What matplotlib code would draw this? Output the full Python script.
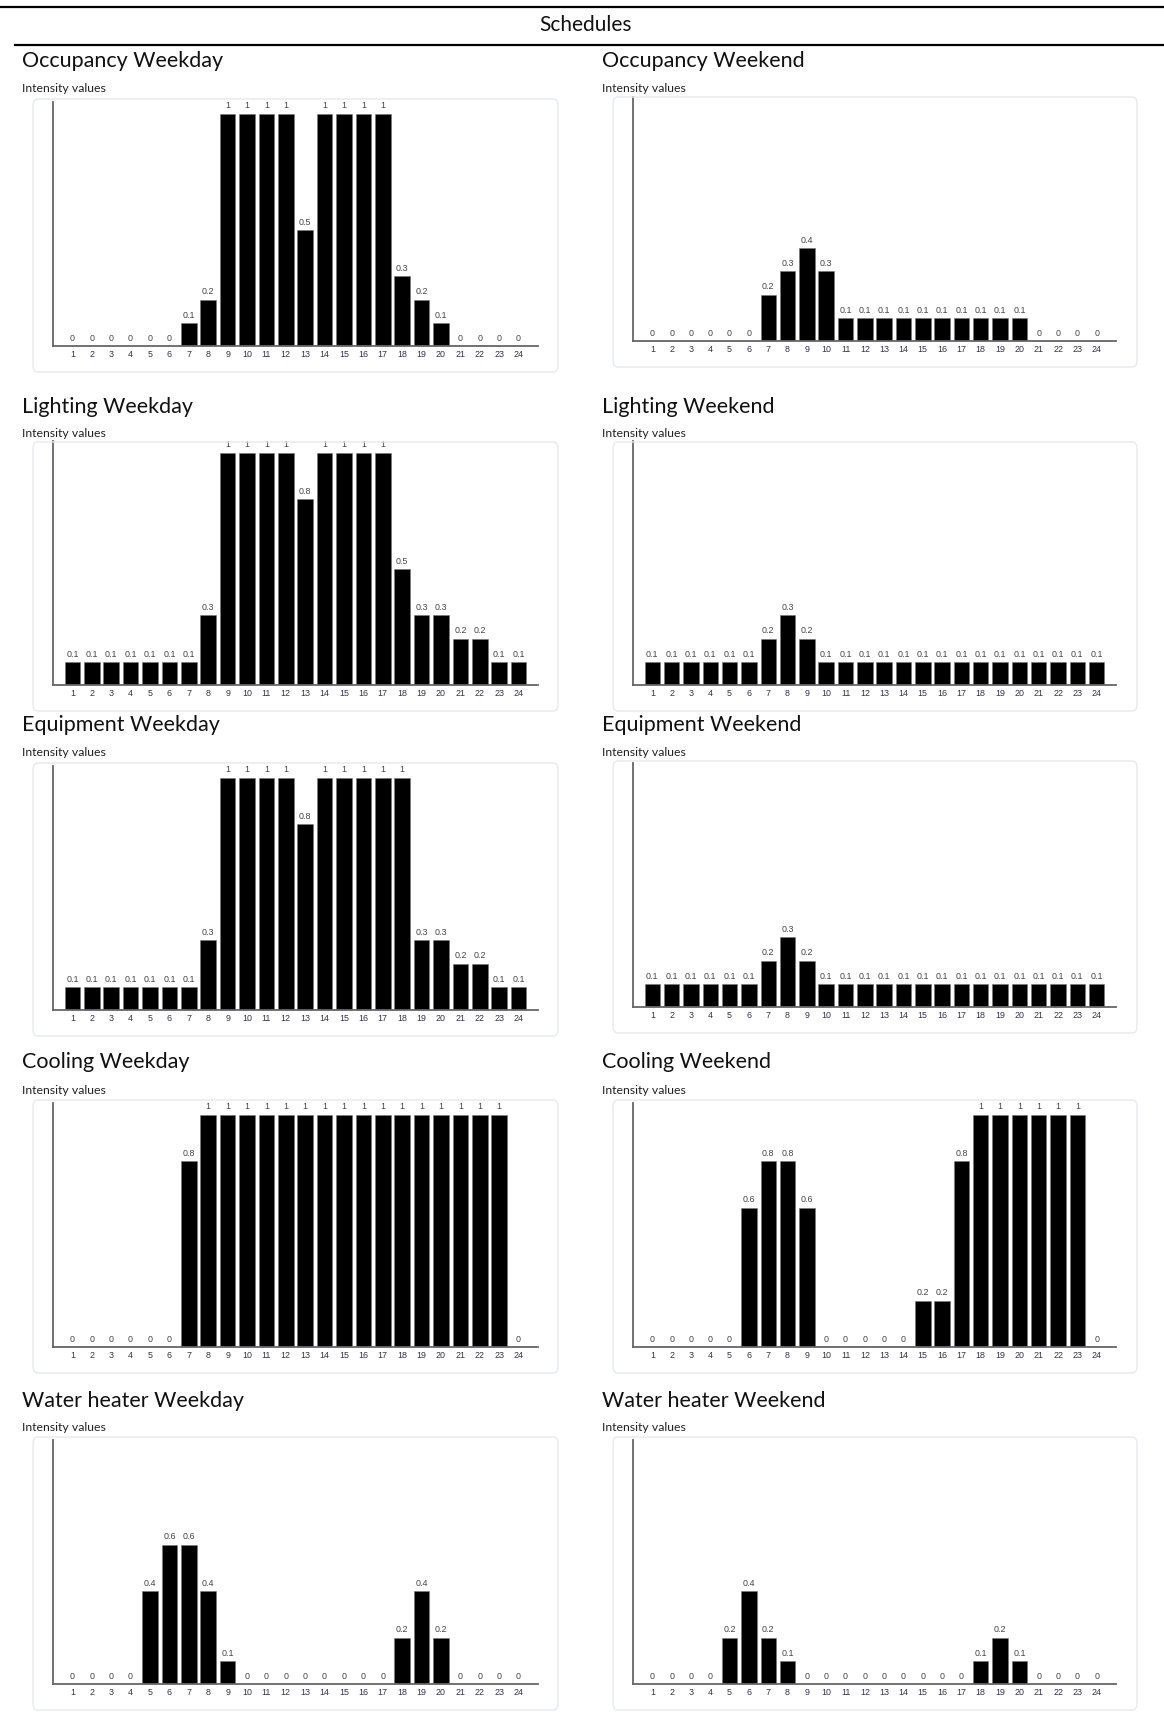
"""
Hourly schedule intensities (weekday / weekend) drawn as bar charts
"""

import matplotlib
matplotlib.use("Agg")
import matplotlib.pyplot as plt
from matplotlib.patches import FancyBboxPatch
from matplotlib.lines import Line2D

# Parameters
W = 1164  # figure width [px]
H = 1715  # figure height [px]
DPI = 100

hours = list(range(1, 25))

occupancy_weekday = [0, 0, 0, 0, 0, 0, 0.1, 0.2, 1, 1, 1, 1,
                     0.5, 1, 1, 1, 1, 0.3, 0.2, 0.1, 0, 0, 0, 0]
occupancy_weekend = [0, 0, 0, 0, 0, 0, 0.2, 0.3, 0.4, 0.3, 0.1, 0.1,
                     0.1, 0.1, 0.1, 0.1, 0.1, 0.1, 0.1, 0.1, 0, 0, 0, 0]
lighting_weekday = [0.1, 0.1, 0.1, 0.1, 0.1, 0.1, 0.1, 0.3, 1, 1, 1, 1,
                    0.8, 1, 1, 1, 1, 0.5, 0.3, 0.3, 0.2, 0.2, 0.1, 0.1]
lighting_weekend = [0.1, 0.1, 0.1, 0.1, 0.1, 0.1, 0.2, 0.3, 0.2, 0.1, 0.1, 0.1,
                    0.1, 0.1, 0.1, 0.1, 0.1, 0.1, 0.1, 0.1, 0.1, 0.1, 0.1, 0.1]
equipment_weekday = [0.1, 0.1, 0.1, 0.1, 0.1, 0.1, 0.1, 0.3, 1, 1, 1, 1,
                     0.8, 1, 1, 1, 1, 1, 0.3, 0.3, 0.2, 0.2, 0.1, 0.1]
equipment_weekend = [0.1, 0.1, 0.1, 0.1, 0.1, 0.1, 0.2, 0.3, 0.2, 0.1, 0.1, 0.1,
                     0.1, 0.1, 0.1, 0.1, 0.1, 0.1, 0.1, 0.1, 0.1, 0.1, 0.1, 0.1]
cooling_weekday = [0, 0, 0, 0, 0, 0, 0.8, 1, 1, 1, 1, 1,
                   1, 1, 1, 1, 1, 1, 1, 1, 1, 1, 1, 0]
cooling_weekend = [0, 0, 0, 0, 0, 0.6, 0.8, 0.8, 0.6, 0, 0, 0,
                   0, 0, 0.2, 0.2, 0.8, 1, 1, 1, 1, 1, 1, 0]
water_weekday = [0, 0, 0, 0, 0.4, 0.6, 0.6, 0.4, 0.1, 0, 0, 0,
                 0, 0, 0, 0, 0, 0.2, 0.4, 0.2, 0, 0, 0, 0]
water_weekend = [0, 0, 0, 0, 0.2, 0.4, 0.2, 0.1, 0, 0, 0, 0,
                 0, 0, 0, 0, 0, 0.1, 0.2, 0.1, 0, 0, 0, 0]

titles = ["Occupancy", "Lighting", "Equipment", "Cooling", "Water heater"]
weekday_data = [occupancy_weekday, lighting_weekday, equipment_weekday,
                cooling_weekday, water_weekday]
weekend_data = [occupancy_weekend, lighting_weekend, equipment_weekend,
                cooling_weekend, water_weekend]

# layout in pixels (top-down)
title_y = [61, 407, 725, 1062, 1401]
sub_y = [89, 434, 753, 1090, 1428]
axis_bottom_left = [347, 686, 1011, 1348, 1685]
axis_bottom_right = [342, 686, 1008, 1348, 1685]
AX_H = 244
COL_X = [(22, 53, 538, 33, 558), (602, 633, 1116, 613, 1137)]  # title x, ax left, ax right, box left, box right

TEXT_FONT = ["Lato", "DejaVu Sans"]
SMALL_FONT = ["Liberation Sans", "DejaVu Sans"]


def fx(px):
    return px / W


def fy(py):
    return 1.0 - py / H


def draw_box(fig, x0, x1, top, bottom):
    box = FancyBboxPatch((fx(x0), fy(bottom)), fx(x1 - x0), (bottom - top) / H,
                         boxstyle="round,pad=0,rounding_size=0.004",
                         transform=fig.transFigure, facecolor="none",
                         edgecolor="#e6eaef", linewidth=1.0, zorder=0)
    fig.patches.append(box)


def draw_chart(fig, values, title, col, row, bottom_px):
    tx, axl, axr, bl, br = COL_X[col]
    top_px = bottom_px - AX_H

    fig.text(fx(tx), fy(title_y[row]), title, fontsize=15.5, family=TEXT_FONT,
             va="center", ha="left", color="#111111")
    fig.text(fx(tx), fy(sub_y[row]), "Intensity values", fontsize=8.8,
             family=TEXT_FONT, va="center", ha="left", color="#222222")

    # keep the frame clear of the subtitle
    box_top = max(top_px - 3, sub_y[row] + 9)
    draw_box(fig, bl, br, box_top, bottom_px + 26)

    ax = fig.add_axes([fx(axl), fy(bottom_px), fx(axr - axl), AX_H / H])
    ax.bar(hours, values, width=0.8, color="black", edgecolor="#777777",
           linewidth=0.4)
    for h, v in zip(hours, values):
        ax.annotate("%g" % v, (h, v), xytext=(0, 3), textcoords="offset points",
                    ha="center", va="bottom", fontsize=6.4, family=SMALL_FONT,
                    color="#444444")
    ax.set_xlim(0, 25)
    ax.set_ylim(0, 1.05)
    ax.set_xticks(hours)
    ax.set_xticklabels([str(h) for h in hours], fontsize=6.4, family=SMALL_FONT,
                       color="#333344")
    ax.tick_params(axis="x", length=0, pad=2)
    ax.set_yticks([])
    ax.spines["top"].set_visible(False)
    ax.spines["right"].set_visible(False)
    for s in ("left", "bottom"):
        ax.spines[s].set_color("#666666")
        ax.spines[s].set_linewidth(1.3)
    ax.patch.set_alpha(0)


def main():
    fig = plt.figure(figsize=(W / DPI, H / DPI), dpi=DPI)
    fig.patch.set_facecolor("white")

    # header
    fig.add_artist(Line2D([0, 1], [fy(8), fy(8)], color="black", linewidth=1.6,
                          transform=fig.transFigure))
    fig.add_artist(Line2D([fx(15), 1], [fy(46), fy(46)], color="black",
                          linewidth=1.6, transform=fig.transFigure))
    fig.text(fx(586), fy(25), "Schedules", fontsize=15, family=TEXT_FONT,
             ha="center", va="center", color="#111111")

    for row, name in enumerate(titles):
        draw_chart(fig, weekday_data[row], name + " Weekday", 0, row,
                   axis_bottom_left[row])
        draw_chart(fig, weekend_data[row], name + " Weekend", 1, row,
                   axis_bottom_right[row])

    fig.savefig("out.png", dpi=DPI)


if __name__ == '__main__':
    main()
